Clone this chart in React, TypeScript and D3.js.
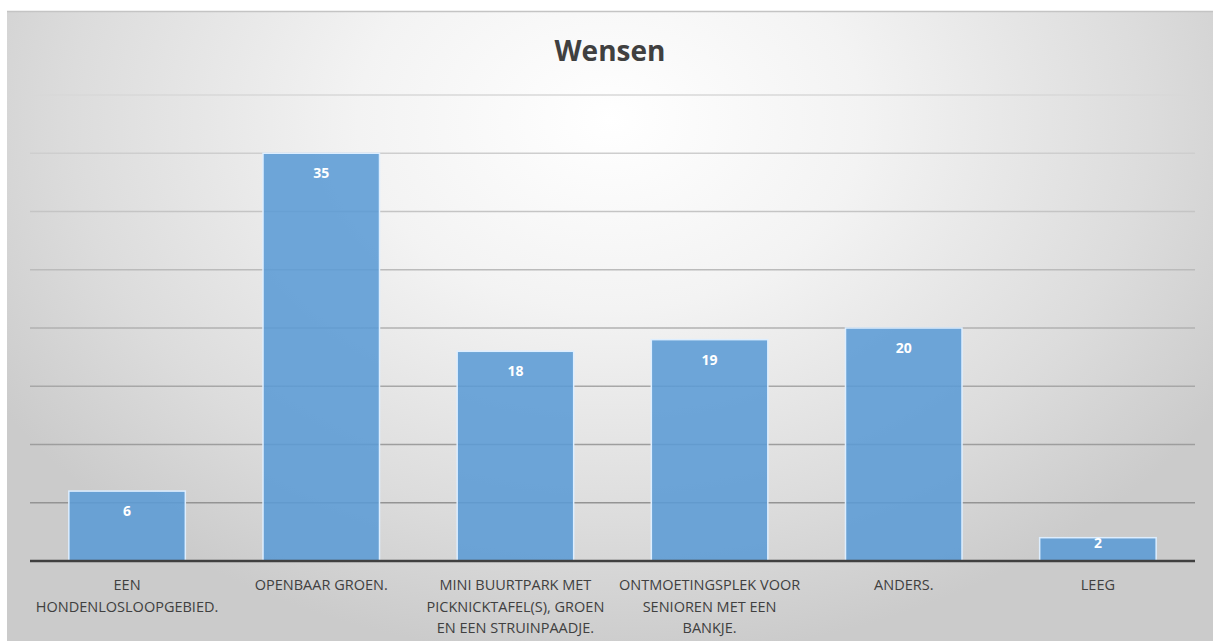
import React from "react";
import * as d3 from "d3";

const title = "Wensen";
const categories: string[][] = [
  ["EEN", "HONDENLOSLOOPGEBIED."],
  ["OPENBAAR GROEN."],
  ["MINI BUURTPARK MET", "PICKNICKTAFEL(S), GROEN", "EN EEN STRUINPAADJE."],
  ["ONTMOETINGSPLEK VOOR", "SENIOREN MET EEN", "BANKJE."],
  ["ANDERS."],
  ["LEEG"],
];
const values = [6, 35, 18, 19, 20, 2];
const yTicks = [0, 5, 10, 15, 20, 25, 30, 35, 40];

const W = 1213;
const H = 641;
const left = 30;
const right = 1195;
const top = 95;
const bottom = 561;

export default function App() {
  const x = d3
    .scaleBand<number>()
    .domain(values.map((_, i) => i))
    .range([left, right])
    .paddingInner(0.4)
    .paddingOuter(0.2);
  const y = d3.scaleLinear().domain([0, 40]).range([bottom, top]);
  const font = "'Open Sans', 'DejaVu Sans', sans-serif";

  return (
    <svg
      width={W}
      height={H}
      style={{ position: "absolute", left: 0, top: 0, display: "block" }}
    >
      <defs>
        <radialGradient
          id="bg"
          gradientUnits="userSpaceOnUse"
          cx={610}
          cy={120}
          r={720}
          gradientTransform="translate(610 120) scale(1 0.75) translate(-610 -120)"
        >
          <stop offset="0" stopColor="#ffffff" />
          <stop offset="0.35" stopColor="#f3f3f3" />
          <stop offset="0.75" stopColor="#dcdcdc" />
          <stop offset="1" stopColor="#cbcbcb" />
        </radialGradient>
        <linearGradient id="grid" gradientUnits="userSpaceOnUse" x1={0} y1={top} x2={0} y2={bottom}>
          <stop offset="0" stopColor="#d8d8d8" />
          <stop offset="1" stopColor="#8a8a8a" />
        </linearGradient>
      </defs>
      <rect x={0} y={0} width={W} height={H} fill="#ffffff" />
      <rect x={7} y={11} width={W - 7} height={H - 11} fill="url(#bg)" />
      <line x1={7} x2={W} y1={11.5} y2={11.5} stroke="#c4c4c4" strokeWidth={1.5} />
      <text
        x={610}
        y={61}
        textAnchor="middle"
        fontFamily={font}
        fontWeight={700}
        fontSize={28}
        fill="#404040"
      >
        {title}
      </text>
      {yTicks
        .filter((t) => t > 0)
        .map((t) => (
          <line
            key={t}
            x1={left}
            x2={right}
            y1={y(t)}
            y2={y(t)}
            stroke="url(#grid)"
            strokeWidth={1.5}
          />
        ))}
      {values.map((v, i) => (
        <g key={i}>
          <rect
            x={x(i)!}
            y={y(v)}
            width={x.bandwidth()}
            height={bottom - y(v)}
            fill="#5b9bd5"
            fillOpacity={0.88}
            stroke="#ddeeff"
            strokeWidth={1.5}
          />
          <text
            x={x(i)! + x.bandwidth() / 2}
            y={Math.min(y(v) + 25, bottom - 13)}
            textAnchor="middle"
            fontFamily={font}
            fontWeight={700}
            fontSize={14}
            fill="#ffffff"
          >
            {v}
          </text>
        </g>
      ))}
      <line x1={left} x2={right} y1={bottom} y2={bottom} stroke="#404040" strokeWidth={2.5} />
      {categories.map((lines, i) => (
        <text
          key={i}
          x={x(i)! + x.bandwidth() / 2}
          textAnchor="middle"
          fontFamily={font}
          fontSize={14.5}
          fill="#404040"
        >
          {lines.map((l, j) => (
            <tspan key={j} x={x(i)! + x.bandwidth() / 2} y={590 + j * 21.5}>
              {l}
            </tspan>
          ))}
        </text>
      ))}
    </svg>
  );
}
